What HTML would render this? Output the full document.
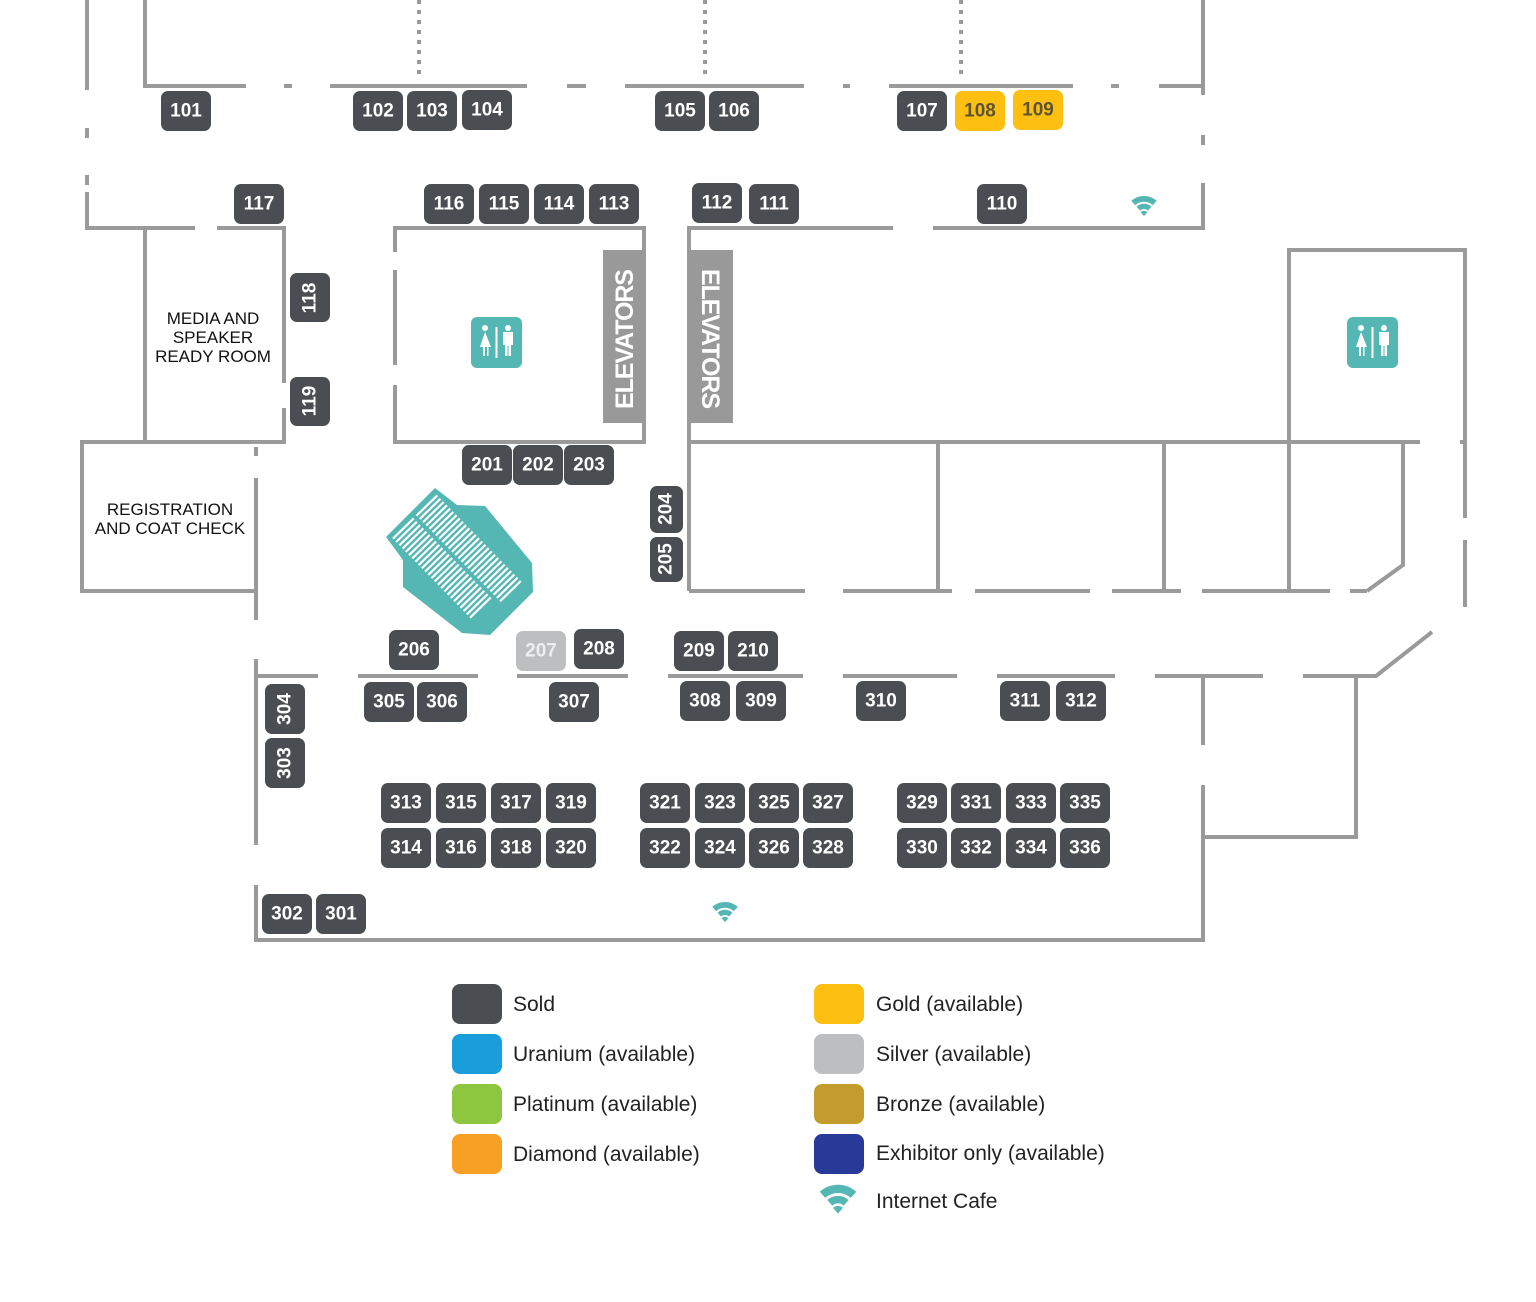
<!DOCTYPE html>
<html><head><meta charset="utf-8"><style>
html,body{margin:0;padding:0;background:#fff;}
svg{display:block;}
.w{stroke:#9a9a9a;stroke-width:4;fill:none;}
.d{stroke:#9a9a9a;stroke-width:4;fill:none;stroke-dasharray:4 6;}
.b{fill:#4a4d51;}
.t{fill:#fff;font-family:"Liberation Sans",sans-serif;font-weight:bold;font-size:19px;text-anchor:middle;dominant-baseline:central;}
.l{fill:#111;font-family:"Liberation Sans",sans-serif;font-size:17px;text-anchor:middle;}
.lg{fill:#222;font-family:"Liberation Sans",sans-serif;font-size:21px;}
.tl{fill:#55b7b3;}
</style></head><body>
<svg width="1536" height="1302" viewBox="0 0 1536 1302" xmlns="http://www.w3.org/2000/svg">
<defs>
<g id="wifi">
<path d="M-9.4,-10.4 A14 14 0 0 1 9.4,-10.4" stroke="#55b7b3" stroke-width="5" fill="none"/>
<path d="M-5,-5.6 A7.5 7.5 0 0 1 5,-5.6" stroke="#55b7b3" stroke-width="4.5" fill="none"/>
<path d="M0,1 L-3,-2.5 A4.5 4.5 0 0 1 3,-2.5 Z" fill="#55b7b3"/>
</g>
<g id="wc">
<rect x="0" y="0" width="51" height="51" rx="6" fill="#55b7b3"/>
<g fill="#fff">
<circle cx="14" cy="11" r="3"/><path d="M14,15 L9,30 L12,30 L12,39 L14,39 L14,30 L16,30 L16,39 L17.5,39 L17.5,30 L20,30 Z"/>
<rect x="24.5" y="10" width="2" height="31"/>
<circle cx="37" cy="11" r="3"/><path d="M32,15 h10 v13 h-2 v11 h-2.5 v-10 h-1 v10 h-2.5 v-11 h-2 z"/>
</g>
</g>
</defs>

<line class="d" x1="419" y1="0" x2="419" y2="80"/>
<line class="d" x1="705" y1="0" x2="705" y2="80"/>
<line class="d" x1="961" y1="0" x2="961" y2="80"/>

<path class="w" d="M87,0 V90 M87,128 V138 M87,175 V185 M87,192 V228 H195 M217,228 H284 V383 M284,408 V442 H82 V591 H256 M145,0 V86 H246 M284,86 H292 M330,86 H527 M567,86 H586 M625,86 H804 M843,86 H850 M889,86 H1073 M1111,86 H1119 M1159,86 H1203 V95 M1203,135 V145 M1203,183 V228 H933 M893,228 H689 V591 M145,228 V442 M1203,0 V86"/>
<path class="w" d="M256,447 V456 M256,478 V620 M256,659 V845 M256,885 V940 H1203 V785 M1203,745 V676"/>
<path class="w" d="M395,252 V228 H644 V442 H395 V385 M395,365 V270"/>
<path class="w" d="M689,442 H1420 M1460,442 H1466 M938,442 V591 M1164,442 V591 M1289,442 V591 M1289,442 V250 H1465 V518 M1465,540 V607 M1403,442 V565 L1367,591"/>
<path class="w" d="M689,591 H805 M843,591 H952 M975,591 H1090 M1112,591 H1181 M1202,591 H1330 M1350,591 H1367"/>
<path class="w" d="M1432,632 L1376,676 H1303 M1263,676 H1155 M1115,676 H997 M957,676 H843 M803,676 H668 M628,676 H517 M478,676 H358 M318,676 H256 M1203,837 H1356 V676"/>

<rect x="603" y="250" width="40" height="173" fill="#999"/>
<text transform="translate(633,339) rotate(-90)" fill="#fff" font-family="Liberation Sans,sans-serif" font-weight="bold" font-size="25" text-anchor="middle" textLength="140">ELEVATORS</text>
<rect x="689" y="250" width="44" height="173" fill="#999"/>
<text transform="translate(702,339) rotate(90)" fill="#fff" font-family="Liberation Sans,sans-serif" font-weight="bold" font-size="25" text-anchor="middle" textLength="140">ELEVATORS</text>

<use href="#wc" x="471" y="317"/>
<use href="#wc" x="1347" y="317"/>
<use href="#wifi" transform="translate(1144,215) scale(1.15)"/>
<use href="#wifi" transform="translate(725,921) scale(1.15)"/>

<text class="l" x="213" y="324">MEDIA AND</text>
<text class="l" x="213" y="343">SPEAKER</text>
<text class="l" x="213" y="362">READY ROOM</text>
<text class="l" x="170" y="515">REGISTRATION</text>
<text class="l" x="170" y="534">AND COAT CHECK</text>

<polygon class="tl" points="435,488 457,505 485,506 532,563 533,592 490,635 462,633 403,587 403,560 386,537"/>
<g transform="translate(457,560) rotate(45.7)">
<g stroke="#fff" stroke-width="2.2">
<line x1="-60" y1="-31" x2="-60" y2="-2"/><line x1="-55.4" y1="-31" x2="-55.4" y2="-2"/><line x1="-50.8" y1="-31" x2="-50.8" y2="-2"/><line x1="-46.2" y1="-31" x2="-46.2" y2="-2"/><line x1="-41.6" y1="-31" x2="-41.6" y2="-2"/><line x1="-37" y1="-31" x2="-37" y2="-2"/><line x1="-32.4" y1="-31" x2="-32.4" y2="-2"/><line x1="-27.8" y1="-31" x2="-27.8" y2="-2"/><line x1="-23.2" y1="-31" x2="-23.2" y2="-2"/><line x1="-18.6" y1="-31" x2="-18.6" y2="-2"/><line x1="-14" y1="-31" x2="-14" y2="-2"/><line x1="-9.4" y1="-31" x2="-9.4" y2="-2"/><line x1="-4.8" y1="-31" x2="-4.8" y2="-2"/><line x1="-0.2" y1="-31" x2="-0.2" y2="-2"/><line x1="4.4" y1="-31" x2="4.4" y2="-2"/><line x1="9" y1="-31" x2="9" y2="-2"/><line x1="13.6" y1="-31" x2="13.6" y2="-2"/><line x1="18.2" y1="-31" x2="18.2" y2="-2"/><line x1="22.8" y1="-31" x2="22.8" y2="-2"/><line x1="27.4" y1="-31" x2="27.4" y2="-2"/><line x1="32" y1="-31" x2="32" y2="-2"/><line x1="36.6" y1="-31" x2="36.6" y2="-2"/><line x1="41.2" y1="-31" x2="41.2" y2="-2"/><line x1="45.8" y1="-31" x2="45.8" y2="-2"/><line x1="50.4" y1="-31" x2="50.4" y2="-2"/><line x1="55" y1="-31" x2="55" y2="-2"/><line x1="59.6" y1="-31" x2="59.6" y2="-2"/>
<line x1="-60" y1="2" x2="-60" y2="31"/><line x1="-55.4" y1="2" x2="-55.4" y2="31"/><line x1="-50.8" y1="2" x2="-50.8" y2="31"/><line x1="-46.2" y1="2" x2="-46.2" y2="31"/><line x1="-41.6" y1="2" x2="-41.6" y2="31"/><line x1="-37" y1="2" x2="-37" y2="31"/><line x1="-32.4" y1="2" x2="-32.4" y2="31"/><line x1="-27.8" y1="2" x2="-27.8" y2="31"/><line x1="-23.2" y1="2" x2="-23.2" y2="31"/><line x1="-18.6" y1="2" x2="-18.6" y2="31"/><line x1="-14" y1="2" x2="-14" y2="31"/><line x1="-9.4" y1="2" x2="-9.4" y2="31"/><line x1="-4.8" y1="2" x2="-4.8" y2="31"/><line x1="-0.2" y1="2" x2="-0.2" y2="31"/><line x1="4.4" y1="2" x2="4.4" y2="31"/><line x1="9" y1="2" x2="9" y2="31"/><line x1="13.6" y1="2" x2="13.6" y2="31"/><line x1="18.2" y1="2" x2="18.2" y2="31"/><line x1="22.8" y1="2" x2="22.8" y2="31"/><line x1="27.4" y1="2" x2="27.4" y2="31"/><line x1="32" y1="2" x2="32" y2="31"/><line x1="36.6" y1="2" x2="36.6" y2="31"/><line x1="41.2" y1="2" x2="41.2" y2="31"/><line x1="45.8" y1="2" x2="45.8" y2="31"/><line x1="50.4" y1="2" x2="50.4" y2="31"/>
</g>
</g>

<g>
<rect class="b" x="161" y="91" width="50" height="40" rx="7"/><text class="t" x="186" y="111">101</text>
<rect class="b" x="353" y="91" width="50" height="40" rx="7"/><text class="t" x="378" y="111">102</text>
<rect class="b" x="407" y="91" width="50" height="40" rx="7"/><text class="t" x="432" y="111">103</text>
<rect class="b" x="462" y="90" width="50" height="40" rx="7"/><text class="t" x="487" y="110">104</text>
<rect class="b" x="655" y="91" width="50" height="40" rx="7"/><text class="t" x="680" y="111">105</text>
<rect class="b" x="709" y="91" width="50" height="40" rx="7"/><text class="t" x="734" y="111">106</text>
<rect class="b" x="897" y="91" width="50" height="40" rx="7"/><text class="t" x="922" y="111">107</text>
<rect x="955" y="91" width="50" height="40" rx="7" fill="#fdc010"/><text class="t" x="980" y="111" style="fill:#5e5330">108</text>
<rect x="1013" y="90" width="50" height="40" rx="7" fill="#fdc010"/><text class="t" x="1038" y="110" style="fill:#5e5330">109</text>
<rect class="b" x="234" y="184" width="50" height="40" rx="7"/><text class="t" x="259" y="204">117</text>
<rect class="b" x="424" y="184" width="50" height="40" rx="7"/><text class="t" x="449" y="204">116</text>
<rect class="b" x="479" y="184" width="50" height="40" rx="7"/><text class="t" x="504" y="204">115</text>
<rect class="b" x="534" y="184" width="50" height="40" rx="7"/><text class="t" x="559" y="204">114</text>
<rect class="b" x="589" y="184" width="50" height="40" rx="7"/><text class="t" x="614" y="204">113</text>
<rect class="b" x="692" y="183" width="50" height="40" rx="7"/><text class="t" x="717" y="203">112</text>
<rect class="b" x="749" y="184" width="50" height="40" rx="7"/><text class="t" x="774" y="204">111</text>
<rect class="b" x="977" y="184" width="50" height="40" rx="7"/><text class="t" x="1002" y="204">110</text>
<rect class="b" x="462" y="445" width="50" height="40" rx="7"/><text class="t" x="487" y="465">201</text>
<rect class="b" x="513" y="445" width="50" height="40" rx="7"/><text class="t" x="538" y="465">202</text>
<rect class="b" x="564" y="445" width="50" height="40" rx="7"/><text class="t" x="589" y="465">203</text>
<rect class="b" x="389" y="630" width="50" height="40" rx="7"/><text class="t" x="414" y="650">206</text>
<rect x="516" y="631" width="50" height="40" rx="7" fill="#bcbec0"/><text class="t" x="541" y="651" style="fill:#eee">207</text>
<rect class="b" x="574" y="629" width="50" height="40" rx="7"/><text class="t" x="599" y="649">208</text>
<rect class="b" x="674" y="631" width="50" height="40" rx="7"/><text class="t" x="699" y="651">209</text>
<rect class="b" x="728" y="631" width="50" height="40" rx="7"/><text class="t" x="753" y="651">210</text>
<rect class="b" x="364" y="682" width="50" height="40" rx="7"/><text class="t" x="389" y="702">305</text>
<rect class="b" x="417" y="682" width="50" height="40" rx="7"/><text class="t" x="442" y="702">306</text>
<rect class="b" x="549" y="682" width="50" height="40" rx="7"/><text class="t" x="574" y="702">307</text>
<rect class="b" x="680" y="681" width="50" height="40" rx="7"/><text class="t" x="705" y="701">308</text>
<rect class="b" x="736" y="681" width="50" height="40" rx="7"/><text class="t" x="761" y="701">309</text>
<rect class="b" x="856" y="681" width="50" height="40" rx="7"/><text class="t" x="881" y="701">310</text>
<rect class="b" x="1000" y="681" width="50" height="40" rx="7"/><text class="t" x="1025" y="701">311</text>
<rect class="b" x="1056" y="681" width="50" height="40" rx="7"/><text class="t" x="1081" y="701">312</text>

<rect class="b" x="381" y="783" width="50" height="40" rx="7"/><text class="t" x="406" y="803">313</text>
<rect class="b" x="436" y="783" width="50" height="40" rx="7"/><text class="t" x="461" y="803">315</text>
<rect class="b" x="491" y="783" width="50" height="40" rx="7"/><text class="t" x="516" y="803">317</text>
<rect class="b" x="546" y="783" width="50" height="40" rx="7"/><text class="t" x="571" y="803">319</text>
<rect class="b" x="381" y="828" width="50" height="40" rx="7"/><text class="t" x="406" y="848">314</text>
<rect class="b" x="436" y="828" width="50" height="40" rx="7"/><text class="t" x="461" y="848">316</text>
<rect class="b" x="491" y="828" width="50" height="40" rx="7"/><text class="t" x="516" y="848">318</text>
<rect class="b" x="546" y="828" width="50" height="40" rx="7"/><text class="t" x="571" y="848">320</text>
<rect class="b" x="640" y="783" width="50" height="40" rx="7"/><text class="t" x="665" y="803">321</text>
<rect class="b" x="695" y="783" width="50" height="40" rx="7"/><text class="t" x="720" y="803">323</text>
<rect class="b" x="749" y="783" width="50" height="40" rx="7"/><text class="t" x="774" y="803">325</text>
<rect class="b" x="803" y="783" width="50" height="40" rx="7"/><text class="t" x="828" y="803">327</text>
<rect class="b" x="640" y="828" width="50" height="40" rx="7"/><text class="t" x="665" y="848">322</text>
<rect class="b" x="695" y="828" width="50" height="40" rx="7"/><text class="t" x="720" y="848">324</text>
<rect class="b" x="749" y="828" width="50" height="40" rx="7"/><text class="t" x="774" y="848">326</text>
<rect class="b" x="803" y="828" width="50" height="40" rx="7"/><text class="t" x="828" y="848">328</text>
<rect class="b" x="897" y="783" width="50" height="40" rx="7"/><text class="t" x="922" y="803">329</text>
<rect class="b" x="951" y="783" width="50" height="40" rx="7"/><text class="t" x="976" y="803">331</text>
<rect class="b" x="1006" y="783" width="50" height="40" rx="7"/><text class="t" x="1031" y="803">333</text>
<rect class="b" x="1060" y="783" width="50" height="40" rx="7"/><text class="t" x="1085" y="803">335</text>
<rect class="b" x="897" y="828" width="50" height="40" rx="7"/><text class="t" x="922" y="848">330</text>
<rect class="b" x="951" y="828" width="50" height="40" rx="7"/><text class="t" x="976" y="848">332</text>
<rect class="b" x="1006" y="828" width="50" height="40" rx="7"/><text class="t" x="1031" y="848">334</text>
<rect class="b" x="1060" y="828" width="50" height="40" rx="7"/><text class="t" x="1085" y="848">336</text>
<rect class="b" x="262" y="894" width="50" height="40" rx="7"/><text class="t" x="287" y="914">302</text>
<rect class="b" x="316" y="894" width="50" height="40" rx="7"/><text class="t" x="341" y="914">301</text>
</g>
<rect class="b" x="290" y="273" width="40" height="49" rx="7"/><text class="t" transform="translate(310,298) rotate(-90)">118</text>
<rect class="b" x="290" y="377" width="40" height="49" rx="7"/><text class="t" transform="translate(310,401) rotate(-90)">119</text>
<rect class="b" x="650" y="486" width="33" height="47" rx="7"/><text class="t" transform="translate(666,509) rotate(-90)">204</text>
<rect class="b" x="650" y="537" width="33" height="45" rx="7"/><text class="t" transform="translate(666,559) rotate(-90)">205</text>
<rect class="b" x="265" y="684" width="40" height="50" rx="7"/><text class="t" transform="translate(285,709) rotate(-90)">304</text>
<rect class="b" x="265" y="738" width="40" height="50" rx="7"/><text class="t" transform="translate(285,763) rotate(-90)">303</text>

<rect x="452" y="984" width="50" height="40" rx="8" fill="#4a4d51"/><text class="lg" x="513" y="1011">Sold</text>
<rect x="452" y="1034" width="50" height="40" rx="8" fill="#1a9edb"/><text class="lg" x="513" y="1061">Uranium (available)</text>
<rect x="452" y="1084" width="50" height="40" rx="8" fill="#8dc63f"/><text class="lg" x="513" y="1111">Platinum (available)</text>
<rect x="452" y="1134" width="50" height="40" rx="8" fill="#f7a023"/><text class="lg" x="513" y="1161">Diamond (available)</text>
<rect x="814" y="984" width="50" height="40" rx="8" fill="#fdc010"/><text class="lg" x="876" y="1011">Gold (available)</text>
<rect x="814" y="1034" width="50" height="40" rx="8" fill="#bcbec0"/><text class="lg" x="876" y="1061">Silver (available)</text>
<rect x="814" y="1084" width="50" height="40" rx="8" fill="#c39c2e"/><text class="lg" x="876" y="1111">Bronze (available)</text>
<rect x="814" y="1134" width="50" height="40" rx="8" fill="#283a97"/><text class="lg" x="876" y="1160">Exhibitor only (available)</text>
<use href="#wifi" transform="translate(838,1212) scale(1.65)"/>
<text class="lg" x="876" y="1208">Internet Cafe</text>
</svg>
</body></html>
